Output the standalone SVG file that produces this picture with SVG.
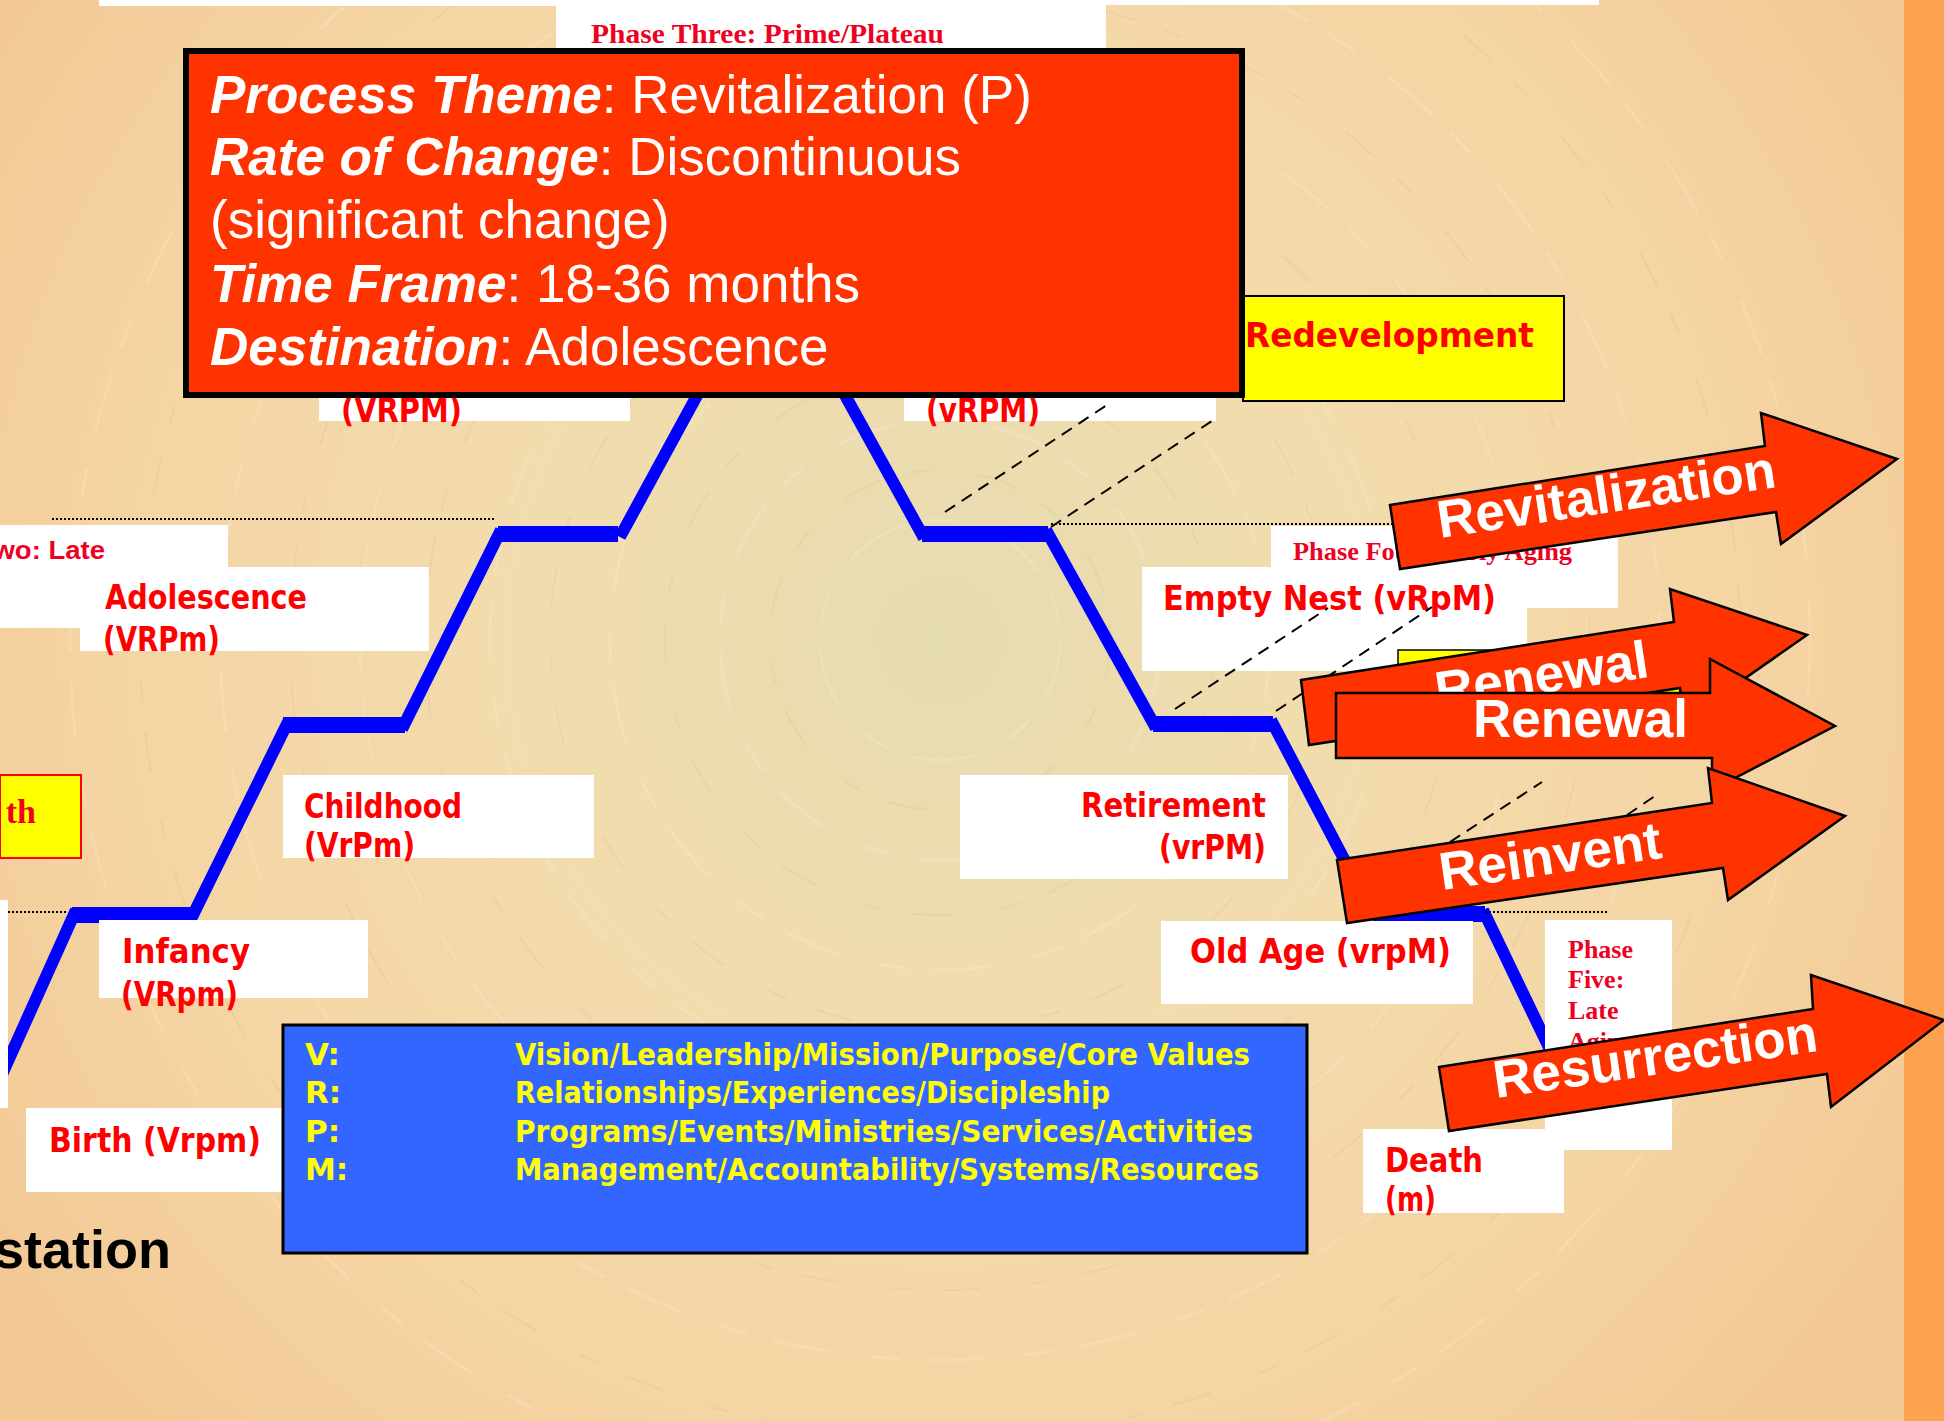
<svg xmlns="http://www.w3.org/2000/svg" width="1944" height="1421" viewBox="0 0 1944 1421">
<style>
.wb{fill:#ffffff}
.lbl{font-family:"DejaVu Sans","Liberation Sans",sans-serif;font-weight:bold;font-size:33px;fill:#ff0000}
.tm{font-family:"Liberation Serif","Times New Roman",serif;font-weight:bold;fill:#ee0022}
.wt{font-family:"Liberation Sans",Arial,sans-serif;font-size:53px;fill:#ffffff}
.bi{font-weight:bold;font-style:italic}
.arw{fill:#ff3300;stroke:#000;stroke-width:2.5;stroke-linejoin:miter}
.arwt{font-family:"Liberation Sans",Arial,sans-serif;font-weight:bold;font-size:53px;fill:#ffffff}
.lg{font-family:"DejaVu Sans","Liberation Sans",sans-serif;font-weight:bold;font-size:31px;fill:#ffff00}
.hz{stroke:#0000ff;stroke-width:16;fill:none}
.dg{stroke:#0000ff;stroke-width:12;fill:none}
.dot{stroke:#000;stroke-width:2;stroke-dasharray:2 2;fill:none}
.dash{stroke:#000;stroke-width:2;stroke-dasharray:12 8;fill:none}
</style>
<defs>
<radialGradient id="bg" cx="940" cy="640" r="1150" gradientUnits="userSpaceOnUse">
<stop offset="0" stop-color="#e6dcb2"/>
<stop offset="0.35" stop-color="#f2dcad"/>
<stop offset="0.7" stop-color="#f5d5a4"/>
<stop offset="1" stop-color="#f2c894"/>
</radialGradient>
</defs>
<g id="background">
<rect x="0" y="0" width="1944" height="1421" fill="url(#bg)"/>
<g fill="none" stroke="#ffffff" stroke-opacity="0.14" stroke-width="3" stroke-dasharray="60 25 30 40">
<circle cx="940" cy="640" r="120"/>
<circle cx="940" cy="640" r="220"/>
<circle cx="940" cy="640" r="330"/>
<circle cx="940" cy="640" r="450"/>
<circle cx="940" cy="640" r="580"/>
<circle cx="940" cy="640" r="720"/>
<circle cx="940" cy="640" r="870"/>
</g>
<g fill="none" stroke="#8a6a40" stroke-opacity="0.06" stroke-width="2" stroke-dasharray="40 30 20 50">
<circle cx="940" cy="640" r="170"/>
<circle cx="940" cy="640" r="275"/>
<circle cx="940" cy="640" r="390"/>
<circle cx="940" cy="640" r="515"/>
<circle cx="940" cy="640" r="650"/>
<circle cx="940" cy="640" r="800"/>
</g>
<rect x="1904" y="0" width="40" height="1421" fill="#fba350"/>
</g>

<g id="top-bars">
<rect class="wb" x="99" y="0" width="457" height="6"/>
<rect class="wb" x="1106" y="0" width="493" height="5"/>
</g>

<g id="phase-three">
<rect class="wb" x="556" y="0" width="550" height="70"/>
<text class="tm" x="591" y="43" font-size="28" textLength="353" lengthAdjust="spacingAndGlyphs">Phase Three: Prime/Plateau</text>
</g>

<g id="connectors">
<line class="dg" x1="76" y1="910" x2="-5" y2="1090"/>
<line class="hz" x1="72" y1="915" x2="195" y2="915"/>
<line class="dg" x1="191" y1="919" x2="288" y2="722"/>
<line class="hz" x1="283" y1="725" x2="405" y2="725"/>
<line class="dg" x1="402" y1="729" x2="501" y2="530"/>
<line class="hz" x1="498" y1="534" x2="618" y2="534"/>
<line class="dg" x1="620" y1="537" x2="712" y2="368"/>
<line class="dg" x1="830" y1="368" x2="924" y2="538"/>
<line class="hz" x1="922" y1="534" x2="1048" y2="534"/>
<line class="dg" x1="1046" y1="530" x2="1156" y2="728"/>
<line class="hz" x1="1153" y1="724" x2="1273" y2="724"/>
<line class="dg" x1="1271" y1="720" x2="1375" y2="918"/>
<line class="hz" x1="1373" y1="914" x2="1485" y2="914"/>
<line class="dg" x1="1483" y1="910" x2="1555" y2="1060"/>
<line class="dot" x1="52" y1="519" x2="496" y2="519"/>
<line class="dot" x1="0" y1="912" x2="67" y2="912"/>
<line class="dot" x1="1051" y1="524" x2="1395" y2="524"/>
<line class="dot" x1="1485" y1="912" x2="1607" y2="912"/>
</g>

<g id="phase-two">
<rect class="wb" x="0" y="525" width="228" height="42"/>
<rect class="wb" x="0" y="525" width="80" height="103"/>
<text x="105" y="559" text-anchor="end" font-family="Liberation Sans, Arial, sans-serif" font-weight="bold" font-size="25" fill="#ee0022" textLength="215" lengthAdjust="spacingAndGlyphs">Phase Two: Late</text>
</g>

<g id="adolescence">
<rect class="wb" x="80" y="567" width="349" height="84"/>
<text class="lbl" x="105" y="609" textLength="202" lengthAdjust="spacingAndGlyphs">Adolescence</text>
<text class="lbl" x="103" y="651" textLength="117" lengthAdjust="spacingAndGlyphs">(VRPm)</text>
</g>

<g id="growth">
<rect x="0" y="775" width="81" height="83" fill="#ffff00" stroke="#ff0000" stroke-width="2"/>
<text class="tm" x="36" y="823" text-anchor="end" font-size="34" fill="#ff0000">th</text>
</g>

<g id="childhood">
<rect class="wb" x="283" y="775" width="311" height="83"/>
<text class="lbl" x="304" y="818" textLength="158" lengthAdjust="spacingAndGlyphs">Childhood</text>
<text class="lbl" x="304" y="857" textLength="111" lengthAdjust="spacingAndGlyphs">(VrPm)</text>
</g>

<g id="infancy">
<rect class="wb" x="99" y="920" width="269" height="78"/>
<text class="lbl" x="122" y="963" textLength="128" lengthAdjust="spacingAndGlyphs">Infancy</text>
<text class="lbl" x="121" y="1006" textLength="117" lengthAdjust="spacingAndGlyphs">(VRpm)</text>
</g>

<g id="left-strip">
<rect class="wb" x="0" y="900" width="8" height="208"/>
</g>

<g id="birth">
<rect class="wb" x="26" y="1108" width="257" height="84"/>
<text class="lbl" x="49" y="1152" textLength="212" lengthAdjust="spacingAndGlyphs">Birth (Vrpm)</text>
</g>

<g id="gestation">
<text x="171" y="1268" text-anchor="end" font-family="Liberation Sans, Arial, sans-serif" font-weight="bold" font-size="54" fill="#000000">station</text>
</g>

<g id="adulthood">
<rect class="wb" x="319" y="330" width="311" height="91"/>
<text class="lbl" x="341" y="422" textLength="121" lengthAdjust="spacingAndGlyphs">(VRPM)</text>
</g>

<g id="maturity">
<rect class="wb" x="904" y="330" width="312" height="91"/>
<text class="lbl" x="926" y="422" textLength="114" lengthAdjust="spacingAndGlyphs">(vRPM)</text>
</g>

<g id="phase-four">
<rect class="wb" x="1271" y="526" width="347" height="82"/>
<text class="tm" x="1293" y="560" font-size="26" textLength="279" lengthAdjust="spacingAndGlyphs">Phase Four: Early Aging</text>
</g>

<g id="empty-nest">
<rect class="wb" x="1142" y="567" width="385" height="104"/>
<text class="lbl" x="1163" y="610" textLength="333" lengthAdjust="spacingAndGlyphs">Empty Nest (vRpM)</text>
</g>

<g id="yellow-hidden">
<rect x="1398" y="650" width="292" height="60" fill="#ffff00" stroke="#000" stroke-width="1.5"/>
</g>

<g id="retirement">
<rect class="wb" x="960" y="775" width="328" height="104"/>
<text class="lbl" x="1266" y="817" text-anchor="end" textLength="185" lengthAdjust="spacingAndGlyphs">Retirement</text>
<text class="lbl" x="1266" y="859" text-anchor="end" textLength="107" lengthAdjust="spacingAndGlyphs">(vrPM)</text>
</g>

<g id="old-age">
<rect class="wb" x="1161" y="921" width="312" height="83"/>
<text class="lbl" x="1190" y="963" textLength="261" lengthAdjust="spacingAndGlyphs">Old Age (vrpM)</text>
</g>

<g id="phase-five">
<rect class="wb" x="1545" y="920" width="127" height="230"/>
<text class="tm" font-size="26"><tspan x="1568" y="958">Phase</tspan><tspan x="1568" y="988">Five:</tspan><tspan x="1568" y="1019">Late</tspan><tspan x="1568" y="1050">Aging</tspan></text>
</g>

<g id="death">
<rect class="wb" x="1363" y="1129" width="201" height="84"/>
<text class="lbl" x="1385" y="1172" textLength="98" lengthAdjust="spacingAndGlyphs">Death</text>
<text class="lbl" x="1385" y="1211" textLength="51" lengthAdjust="spacingAndGlyphs">(m)</text>
</g>

<g id="dashes">
<line class="dash" x1="945" y1="512" x2="1110" y2="403"/>
<line class="dash" x1="1051" y1="527" x2="1215" y2="419"/>
<line class="dash" x1="1175" y1="709" x2="1328" y2="608"/>
<line class="dash" x1="1276" y1="711" x2="1432" y2="607"/>
<line class="dash" x1="1450" y1="842" x2="1542" y2="782"/>
<line class="dash" x1="1627" y1="815" x2="1655" y2="796"/>
</g>

<g id="redevelopment">
<rect x="1243" y="296" width="321" height="105" fill="#ffff00" stroke="#000" stroke-width="2"/>
<text class="lbl" x="1245" y="347" font-size="42" textLength="289" lengthAdjust="spacingAndGlyphs">Redevelopment</text>
</g>

<g id="process-box">
<rect x="186" y="51" width="1056" height="344" fill="#ff3300" stroke="#000" stroke-width="6"/>
<text class="wt" x="210" y="113"><tspan class="bi">Process Theme</tspan>: Revitalization (P)</text>
<text class="wt" x="210" y="175"><tspan class="bi">Rate of Change</tspan>: Discontinuous</text>
<text class="wt" x="210" y="238">(significant change)</text>
<text class="wt" x="210" y="302"><tspan class="bi">Time Frame</tspan>: 18-36 months</text>
<text class="wt" x="210" y="365"><tspan class="bi">Destination</tspan>: Adolescence</text>
</g>

<g id="legend">
<rect x="283" y="1025" width="1024" height="228" fill="#3366ff" stroke="#000" stroke-width="3"/>
<text class="lg" x="305" y="1065">V:</text>
<text class="lg" x="305" y="1103">R:</text>
<text class="lg" x="305" y="1142">P:</text>
<text class="lg" x="305" y="1180">M:</text>
<text class="lg" x="515" y="1065" textLength="735" lengthAdjust="spacingAndGlyphs">Vision/Leadership/Mission/Purpose/Core Values</text>
<text class="lg" x="515" y="1103" textLength="595" lengthAdjust="spacingAndGlyphs">Relationships/Experiences/Discipleship</text>
<text class="lg" x="515" y="1142" textLength="738" lengthAdjust="spacingAndGlyphs">Programs/Events/Ministries/Services/Activities</text>
<text class="lg" x="515" y="1180" textLength="744" lengthAdjust="spacingAndGlyphs">Management/Accountability/Systems/Resources</text>
</g>

<g id="arrow-revitalization">
<polygon class="arw" points="1390,505 1765,446 1761,413 1897,459 1781,544 1776,512 1400,569"/>
<text class="arwt" transform="translate(1440,538) rotate(-8.6)">Revitalization</text>
</g>

<g id="arrow-renewal-back">
<polygon class="arw" points="1301,680 1674,622 1670,589 1807,635 1684,721 1680,688 1309,745"/>
<text class="arwt" transform="translate(1438,709) rotate(-8.6)">Renewal</text>
</g>

<g id="arrow-renewal">
<polygon class="arw" points="1336,693 1710,693 1710,659 1835,726 1712,790 1712,758 1336,758"/>
<text class="arwt" x="1473" y="737">Renewal</text>
</g>

<g id="arrow-reinvent">
<polygon class="arw" points="1337,860 1712,803 1708,768 1845,816 1728,900 1723,868 1347,923"/>
<text class="arwt" transform="translate(1442,890) rotate(-8.3)">Reinvent</text>
</g>

<g id="arrow-resurrection">
<polygon class="arw" points="1439,1067 1813,1009 1811,975 1944,1020 1831,1107 1827,1074 1449,1131"/>
<text class="arwt" transform="translate(1496,1098) rotate(-8.3)">Resurrection</text>
</g>
</svg>
